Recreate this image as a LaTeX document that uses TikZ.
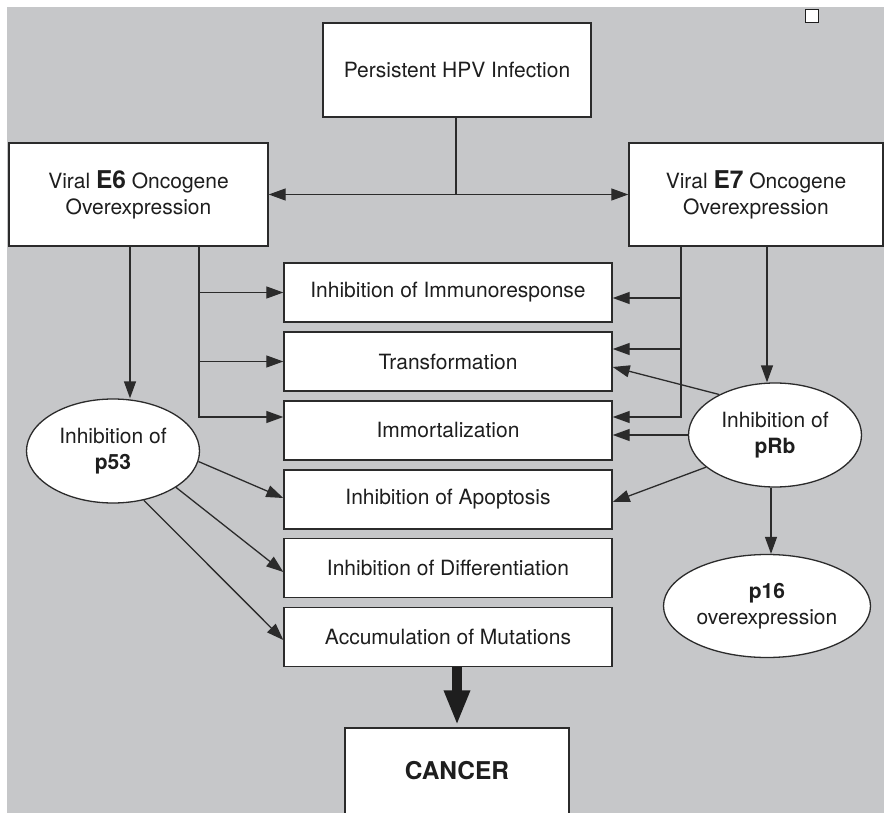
\documentclass[tikz,border=0pt]{standalone}
\usepackage{fontspec}
\setmainfont{TeX Gyre Heros}
\usetikzlibrary{arrows.meta,positioning,shapes.geometric}
\definecolor{ink}{HTML}{1E1E1E}
\definecolor{wire}{HTML}{2B2B2B}
\definecolor{paper}{HTML}{C6C7C9}
\newcommand\gene[1]{{\fontsize{24.5}{26}\selectfont\bfseries #1}}
\tikzset{
  >={Triangle[length=17pt,width=12pt]},
  every node/.style={font=\fontsize{21}{26}\selectfont, text=ink},
  box/.style={draw=wire, line width=1.4pt, fill=white, align=center, inner sep=0pt},
  effect/.style={box, minimum width=328pt, minimum height=59pt},
  oval/.style={ellipse, draw=wire, line width=1.3pt, fill=white, align=center, inner sep=0pt,
               minimum width=173pt, minimum height=104pt},
  flow/.style={->, draw=wire, line width=1.3pt},
  link/.style={draw=wire, line width=1.3pt},
  bigflow/.style={-{Triangle[length=35pt,width=24pt]}, draw=ink, line width=10pt},
}

\begin{document}
\begin{tikzpicture}[x=1pt,y=-1pt]
\useasboundingbox (0,0) rectangle (884,813);
\fill[white] (0,0) rectangle (884,813);
\fill[paper] (7,7) rectangle (884,813);

\node[draw=ink, line width=1.6pt, fill=white, minimum size=13pt, inner sep=0pt] (tick) at (812,16) {};

% ================= infection and oncogenes =================
\node[box, minimum width=268pt, minimum height=94pt] (hpv) at (457,70) {Persistent HPV Infection};
\node[box, minimum width=259pt, minimum height=103pt] (e6) at (138.5,194.5) {Viral \gene{E6} Oncogene\\Overexpression};
\node[box, minimum width=254pt, minimum height=103pt] (e7) at (756,194.5) {Viral \gene{E7} Oncogene\\Overexpression};

\draw[link] ([xshift=-1pt]hpv.south) -- ([xshift=-1pt]hpv.south |- e6.east);
\draw[flow, <->] (e6.east) -- (e7.west);

% ================= effects column =================
\foreach \n/\y/\lab in {immu/292.5/Inhibition of Immunoresponse, trans/361.5/Transformation,
                        immo/430.5/Immortalization, apop/499.5/Inhibition of Apoptosis,
                        diff/568/Inhibition of Differentiation, mut/637/Accumulation of Mutations}
  \node[effect] (\n) at (448,\y) {\lab};

\node[oval] (p53) at (113,451) {Inhibition of\\\textbf{p53}};
\node[oval] (prb) at (775,435) {Inhibition of\\\textbf{pRb}};
\node[oval, minimum width=207pt, minimum height=103pt] (p16) at (767,606) {\textbf{p16}\\overexpression};
\node[box, minimum width=224pt, minimum height=86pt] (canc) at (457,771) {\textbf{\fontsize{24.5}{26}\selectfont CANCER}};

% E6 side
\coordinate (e6a) at ([xshift=-8.5pt]e6.south);
\coordinate (e6b) at ([xshift=60.5pt]e6.south);
\draw[flow] (e6a) -- (e6a |- p53.north);
\draw[flow] (e6b) |- ([yshift=13.5pt]immo.west);
\draw[flow] (e6b |- immu.west) -- (immu.west);
\draw[flow] (e6b |- trans.west) -- (trans.west);

% E7 side
\coordinate (e7a) at ([xshift=-75pt]e7.south);
\coordinate (e7b) at ([xshift=11pt]e7.south);
\coordinate (immuR) at ([yshift=-5.5pt]immu.east);
\coordinate (transR) at ([yshift=12.5pt]trans.east);
\draw[flow] (e7a) |- ([yshift=13.5pt]immo.east);
\draw[flow] (e7a |- immuR) -- (immuR);
\draw[flow] (e7a |- transR) -- (transR);
\draw[flow] (e7b) -- (e7b |- prb.north);

% pRb and p53 targets
\draw[flow] (prb.144) -- ([yshift=-5.5pt]trans.east);
\draw[flow] (prb.west) -- (prb.west -| immo.east);
\draw[flow] (prb.205) -- ([yshift=-2.5pt]apop.east);
\draw[flow] ([xshift=-4pt]prb.south) -- ([xshift=-4pt]prb.south |- p16.north);

\draw[flow] (p53.-7) -- ([yshift=1.5pt]apop.west);
\draw[flow] (p53.-30) -- ([yshift=-4pt]diff.west);
\draw[flow] (p53.-58) -- ([yshift=-3pt]mut.west);

\draw[bigflow, shorten >=2pt] (canc.north |- mut.south) -- (canc.north);

\end{tikzpicture}
\end{document}
